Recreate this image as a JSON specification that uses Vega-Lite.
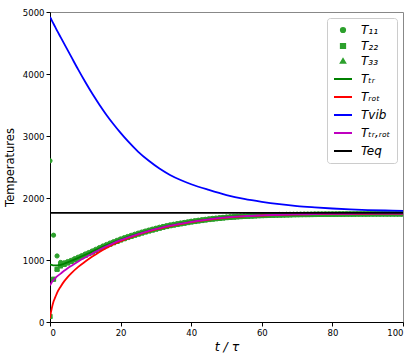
{
  "$schema": "https://vega.github.io/schema/vega-lite/v6.json",
  "width": 353,
  "height": 310,
  "autosize": {"type": "none"},
  "padding": {"left": 50, "top": 12, "right": 17, "bottom": 38},
  "background": "white",
  "config": {
    "font": "DejaVu Sans",
    "view": {"stroke": "#888", "strokeWidth": 1},
    "axis": {"grid": false, "domainColor": "#000", "tickColor": "#000", "labelColor": "#000", "titleColor": "#000", "tickSize": 4, "labelPadding": 2, "labelFontSize": 8.5, "titleFontSize": 11.5, "titleFontWeight": "normal", "domainWidth": 1},
    "legend": {"orient": "top-right", "offset": 6, "padding": 6, "strokeColor": "#ccc", "fillColor": "white", "cornerRadius": 3, "labelFontSize": 12, "labelFontStyle": "italic", "labelColor": "#000", "rowPadding": 2, "symbolStrokeWidth": 2, "labelOffset": 8}
  },
  "datasets": {
    "scatter": [
      {"t":0,"T11":2600,"T22":90,"T33":90},
      {"t":1,"T11":1400,"T22":690,"T33":695},
      {"t":2,"T11":1065,"T22":850,"T33":860},
      {"t":3,"T11":960,"T22":925,"T33":900},
      {"t":4,"T11":955,"T22":935,"T33":925},
      {"t":5,"T11":975,"T22":955,"T33":952},
      {"t":6,"T11":995,"T22":980,"T33":978},
      {"t":7,"T11":1022,"T22":1004,"T33":1003},
      {"t":8,"T11":1046,"T22":1030,"T33":1028},
      {"t":9,"T11":1070,"T22":1055,"T33":1052},
      {"t":10,"T11":1097,"T22":1080,"T33":1077},
      {"t":11,"T11":1121,"T22":1104,"T33":1106},
      {"t":12,"T11":1146,"T22":1130,"T33":1128},
      {"t":13,"T11":1173,"T22":1155,"T33":1158},
      {"t":14,"T11":1200,"T22":1184,"T33":1183},
      {"t":15,"T11":1226,"T22":1208,"T33":1210},
      {"t":16,"T11":1250,"T22":1233,"T33":1236},
      {"t":17,"T11":1274,"T22":1257,"T33":1258},
      {"t":18,"T11":1295,"T22":1279,"T33":1280},
      {"t":19,"T11":1318,"T22":1301,"T33":1303},
      {"t":20,"T11":1340,"T22":1324,"T33":1325},
      {"t":21,"T11":1360,"T22":1344,"T33":1346},
      {"t":22,"T11":1379,"T22":1364,"T33":1365},
      {"t":23,"T11":1398,"T22":1383,"T33":1384},
      {"t":24,"T11":1416,"T22":1401,"T33":1402},
      {"t":25,"T11":1434,"T22":1419,"T33":1420},
      {"t":26,"T11":1451,"T22":1436,"T33":1437},
      {"t":27,"T11":1467,"T22":1453,"T33":1454},
      {"t":28,"T11":1483,"T22":1469,"T33":1470},
      {"t":29,"T11":1498,"T22":1484,"T33":1485},
      {"t":30,"T11":1513,"T22":1499,"T33":1500},
      {"t":31,"T11":1528,"T22":1514,"T33":1515},
      {"t":32,"T11":1541,"T22":1528,"T33":1529},
      {"t":33,"T11":1554,"T22":1541,"T33":1542},
      {"t":34,"T11":1567,"T22":1554,"T33":1555},
      {"t":35,"T11":1577,"T22":1564,"T33":1565},
      {"t":36,"T11":1587,"T22":1574,"T33":1575},
      {"t":37,"T11":1597,"T22":1584,"T33":1585},
      {"t":38,"T11":1606,"T22":1594,"T33":1595},
      {"t":39,"T11":1616,"T22":1604,"T33":1605},
      {"t":40,"T11":1626,"T22":1614,"T33":1615},
      {"t":41,"T11":1634,"T22":1622,"T33":1623},
      {"t":42,"T11":1642,"T22":1630,"T33":1631},
      {"t":43,"T11":1650,"T22":1638,"T33":1639},
      {"t":44,"T11":1657,"T22":1646,"T33":1647},
      {"t":45,"T11":1665,"T22":1654,"T33":1655},
      {"t":46,"T11":1671,"T22":1660,"T33":1661},
      {"t":47,"T11":1677,"T22":1666,"T33":1667},
      {"t":48,"T11":1683,"T22":1672,"T33":1673},
      {"t":49,"T11":1688,"T22":1678,"T33":1679},
      {"t":50,"T11":1694,"T22":1684,"T33":1685},
      {"t":51,"T11":1698,"T22":1688,"T33":1689},
      {"t":52,"T11":1702,"T22":1692,"T33":1693},
      {"t":53,"T11":1706,"T22":1696,"T33":1697},
      {"t":54,"T11":1710,"T22":1700,"T33":1701},
      {"t":55,"T11":1713,"T22":1704,"T33":1705},
      {"t":56,"T11":1716,"T22":1706,"T33":1707},
      {"t":57,"T11":1718,"T22":1709,"T33":1710},
      {"t":58,"T11":1720,"T22":1711,"T33":1712},
      {"t":59,"T11":1723,"T22":1714,"T33":1715},
      {"t":60,"T11":1725,"T22":1716,"T33":1717},
      {"t":61,"T11":1727,"T22":1718,"T33":1719},
      {"t":62,"T11":1729,"T22":1720,"T33":1721},
      {"t":63,"T11":1731,"T22":1722,"T33":1723},
      {"t":64,"T11":1732,"T22":1724,"T33":1725},
      {"t":65,"T11":1734,"T22":1725,"T33":1726},
      {"t":66,"T11":1735,"T22":1726,"T33":1727},
      {"t":67,"T11":1736,"T22":1727,"T33":1728},
      {"t":68,"T11":1737,"T22":1728,"T33":1729},
      {"t":69,"T11":1738,"T22":1730,"T33":1731},
      {"t":70,"T11":1739,"T22":1731,"T33":1732},
      {"t":71,"T11":1740,"T22":1732,"T33":1733},
      {"t":72,"T11":1741,"T22":1733,"T33":1734},
      {"t":73,"T11":1741,"T22":1733,"T33":1734},
      {"t":74,"T11":1742,"T22":1734,"T33":1735},
      {"t":75,"T11":1743,"T22":1735,"T33":1736},
      {"t":76,"T11":1744,"T22":1736,"T33":1737},
      {"t":77,"T11":1744,"T22":1736,"T33":1737},
      {"t":78,"T11":1745,"T22":1737,"T33":1738},
      {"t":79,"T11":1745,"T22":1737,"T33":1738},
      {"t":80,"T11":1746,"T22":1738,"T33":1739},
      {"t":81,"T11":1746,"T22":1738,"T33":1739},
      {"t":82,"T11":1747,"T22":1739,"T33":1740},
      {"t":83,"T11":1747,"T22":1739,"T33":1740},
      {"t":84,"T11":1748,"T22":1740,"T33":1741},
      {"t":85,"T11":1748,"T22":1740,"T33":1741},
      {"t":86,"T11":1748,"T22":1740,"T33":1741},
      {"t":87,"T11":1749,"T22":1741,"T33":1742},
      {"t":88,"T11":1749,"T22":1741,"T33":1742},
      {"t":89,"T11":1749,"T22":1741,"T33":1742},
      {"t":90,"T11":1749,"T22":1741,"T33":1742},
      {"t":91,"T11":1750,"T22":1742,"T33":1743},
      {"t":92,"T11":1750,"T22":1742,"T33":1743},
      {"t":93,"T11":1750,"T22":1742,"T33":1743},
      {"t":94,"T11":1750,"T22":1742,"T33":1743},
      {"t":95,"T11":1750,"T22":1742,"T33":1743},
      {"t":96,"T11":1750,"T22":1742,"T33":1743},
      {"t":97,"T11":1750,"T22":1742,"T33":1743},
      {"t":98,"T11":1750,"T22":1742,"T33":1743},
      {"t":99,"T11":1750,"T22":1742,"T33":1743},
      {"t":100,"T11":1750,"T22":1742,"T33":1743}
    ],
    "lines": [
      {"t":0,"Ttr":927,"Trot":60,"Tvib":4920,"Ttrrot":590,"Teq":1760},
      {"t":0.25,"Ttr":924,"Trot":150,"Tvib":4895,"Ttrrot":615,"Teq":1760},
      {"t":0.5,"Ttr":921,"Trot":220,"Tvib":4865,"Ttrrot":640,"Teq":1760},
      {"t":1,"Ttr":915,"Trot":330,"Tvib":4810,"Ttrrot":680,"Teq":1760},
      {"t":1.5,"Ttr":913,"Trot":400,"Tvib":4755,"Ttrrot":708,"Teq":1760},
      {"t":2,"Ttr":912,"Trot":470,"Tvib":4700,"Ttrrot":735,"Teq":1760},
      {"t":3,"Ttr":920,"Trot":570,"Tvib":4595,"Ttrrot":780,"Teq":1760},
      {"t":4,"Ttr":940,"Trot":655,"Tvib":4490,"Ttrrot":826,"Teq":1760},
      {"t":5,"Ttr":962,"Trot":725,"Tvib":4385,"Ttrrot":867,"Teq":1760},
      {"t":6,"Ttr":985,"Trot":785,"Tvib":4280,"Ttrrot":905,"Teq":1760},
      {"t":8,"Ttr":1035,"Trot":890,"Tvib":4070,"Ttrrot":977,"Teq":1760},
      {"t":10,"Ttr":1085,"Trot":975,"Tvib":3870,"Ttrrot":1041,"Teq":1760},
      {"t":12,"Ttr":1135,"Trot":1055,"Tvib":3680,"Ttrrot":1103,"Teq":1760},
      {"t":14,"Ttr":1190,"Trot":1130,"Tvib":3505,"Ttrrot":1166,"Teq":1760},
      {"t":16,"Ttr":1240,"Trot":1195,"Tvib":3340,"Ttrrot":1222,"Teq":1760},
      {"t":18,"Ttr":1285,"Trot":1255,"Tvib":3190,"Ttrrot":1273,"Teq":1760},
      {"t":20,"Ttr":1330,"Trot":1305,"Tvib":3050,"Ttrrot":1320,"Teq":1760},
      {"t":22,"Ttr":1370,"Trot":1350,"Tvib":2920,"Ttrrot":1362,"Teq":1760},
      {"t":25,"Ttr":1425,"Trot":1410,"Tvib":2745,"Ttrrot":1419,"Teq":1760},
      {"t":28,"Ttr":1475,"Trot":1460,"Tvib":2600,"Ttrrot":1469,"Teq":1760},
      {"t":31,"Ttr":1520,"Trot":1505,"Tvib":2475,"Ttrrot":1514,"Teq":1760},
      {"t":34,"Ttr":1560,"Trot":1545,"Tvib":2372,"Ttrrot":1554,"Teq":1760},
      {"t":37,"Ttr":1590,"Trot":1580,"Tvib":2290,"Ttrrot":1586,"Teq":1760},
      {"t":40,"Ttr":1620,"Trot":1610,"Tvib":2222,"Ttrrot":1616,"Teq":1760},
      {"t":45,"Ttr":1660,"Trot":1650,"Tvib":2130,"Ttrrot":1656,"Teq":1760},
      {"t":50,"Ttr":1690,"Trot":1682,"Tvib":2048,"Ttrrot":1687,"Teq":1760},
      {"t":55,"Ttr":1710,"Trot":1705,"Tvib":1985,"Ttrrot":1708,"Teq":1760},
      {"t":60,"Ttr":1722,"Trot":1718,"Tvib":1938,"Ttrrot":1720,"Teq":1760},
      {"t":65,"Ttr":1731,"Trot":1728,"Tvib":1900,"Ttrrot":1730,"Teq":1760},
      {"t":70,"Ttr":1737,"Trot":1735,"Tvib":1870,"Ttrrot":1736,"Teq":1760},
      {"t":75,"Ttr":1741,"Trot":1740,"Tvib":1849,"Ttrrot":1741,"Teq":1760},
      {"t":80,"Ttr":1744,"Trot":1743,"Tvib":1831,"Ttrrot":1744,"Teq":1760},
      {"t":85,"Ttr":1746,"Trot":1745,"Tvib":1816,"Ttrrot":1746,"Teq":1760},
      {"t":90,"Ttr":1747,"Trot":1746,"Tvib":1805,"Ttrrot":1747,"Teq":1760},
      {"t":95,"Ttr":1748,"Trot":1747,"Tvib":1798,"Ttrrot":1748,"Teq":1760},
      {"t":100,"Ttr":1748,"Trot":1748,"Tvib":1792,"Ttrrot":1749,"Teq":1760}
    ]
  },
  "layer": [
    {
      "data": {"name": "scatter"},
      "transform": [{"fold": ["T11", "T22", "T33"], "as": ["series", "T"]}],
      "mark": {"type": "point", "filled": true, "opacity": 1, "strokeWidth": 1, "clip": true},
      "encoding": {
        "x": {"field": "t", "type": "quantitative"},
        "y": {"field": "T", "type": "quantitative"},
        "fill": {"field": "series", "type": "nominal",
          "scale": {"domain": ["T11","T22","T33","Ttr","Trot","Tvib","Ttrrot","Teq"], "range": ["#2ca02c","#2ca02c","#2ca02c","#008000","#ff0000","#0000ff","#bf00bf","#000000"]},
          "legend": {"title": null, "labelExpr": "{'T11':'T₁₁','T22':'T₂₂','T33':'T₃₃','Ttr':'Tₜᵣ','Trot':'Tᵣₒₜ','Tvib':'Tvib','Ttrrot':'Tₜᵣ,ᵣₒₜ','Teq':'Teq'}[datum.label]"}},
        "stroke": {"field": "series", "type": "nominal",
          "scale": {"domain": ["T11","T22","T33","Ttr","Trot","Tvib","Ttrrot","Teq"], "range": ["#2ca02c","#2ca02c","#2ca02c","#008000","#ff0000","#0000ff","#bf00bf","#000000"]},
          "legend": {"title": null, "labelExpr": "{'T11':'T₁₁','T22':'T₂₂','T33':'T₃₃','Ttr':'Tₜᵣ','Trot':'Tᵣₒₜ','Tvib':'Tvib','Ttrrot':'Tₜᵣ,ᵣₒₜ','Teq':'Teq'}[datum.label]"}},
        "shape": {"field": "series", "type": "nominal",
          "scale": {"domain": ["T11","T22","T33","Ttr","Trot","Tvib","Ttrrot","Teq"], "range": ["circle","square","triangle-up","stroke","stroke","stroke","stroke","stroke"]},
          "legend": {"title": null, "labelExpr": "{'T11':'T₁₁','T22':'T₂₂','T33':'T₃₃','Ttr':'Tₜᵣ','Trot':'Tᵣₒₜ','Tvib':'Tvib','Ttrrot':'Tₜᵣ,ᵣₒₜ','Teq':'Teq'}[datum.label]"}},
        "size": {"field": "series", "type": "nominal",
          "scale": {"type": "ordinal", "domain": ["T11","T22","T33","Ttr","Trot","Tvib","Ttrrot","Teq"], "range": [18,18,18,324,324,324,324,324]},
          "legend": {"title": null, "labelExpr": "{'T11':'T₁₁','T22':'T₂₂','T33':'T₃₃','Ttr':'Tₜᵣ','Trot':'Tᵣₒₜ','Tvib':'Tvib','Ttrrot':'Tₜᵣ,ᵣₒₜ','Teq':'Teq'}[datum.label]"}}
      }
    },
    {
      "data": {"name": "lines"},
      "transform": [{"fold": ["Ttr", "Trot", "Tvib", "Ttrrot", "Teq"], "as": ["series", "T"]}],
      "mark": {"type": "line", "strokeWidth": 1.8, "interpolate": "monotone", "clip": true},
      "encoding": {
        "x": {"field": "t", "type": "quantitative", "scale": {"domain": [0, 100], "nice": false}, "axis": {"values": [0,20,40,60,80,100], "title": "t / τ", "titleFontStyle": "italic", "titleFontSize": 12.5, "titlePadding": 4}},
        "y": {"field": "T", "type": "quantitative", "scale": {"domain": [0, 5000], "nice": false}, "axis": {"values": [0,1000,2000,3000,4000,5000], "format": "d", "title": "Temperatures", "titlePadding": 7}},
        "stroke": {"field": "series", "type": "nominal",
          "scale": {"domain": ["T11","T22","T33","Ttr","Trot","Tvib","Ttrrot","Teq"], "range": ["#2ca02c","#2ca02c","#2ca02c","#008000","#ff0000","#0000ff","#bf00bf","#000000"]},
          "legend": {"title": null, "labelExpr": "{'T11':'T₁₁','T22':'T₂₂','T33':'T₃₃','Ttr':'Tₜᵣ','Trot':'Tᵣₒₜ','Tvib':'Tvib','Ttrrot':'Tₜᵣ,ᵣₒₜ','Teq':'Teq'}[datum.label]"}},
        "order": {"field": "t", "type": "quantitative"}
      }
    }
  ]
}
